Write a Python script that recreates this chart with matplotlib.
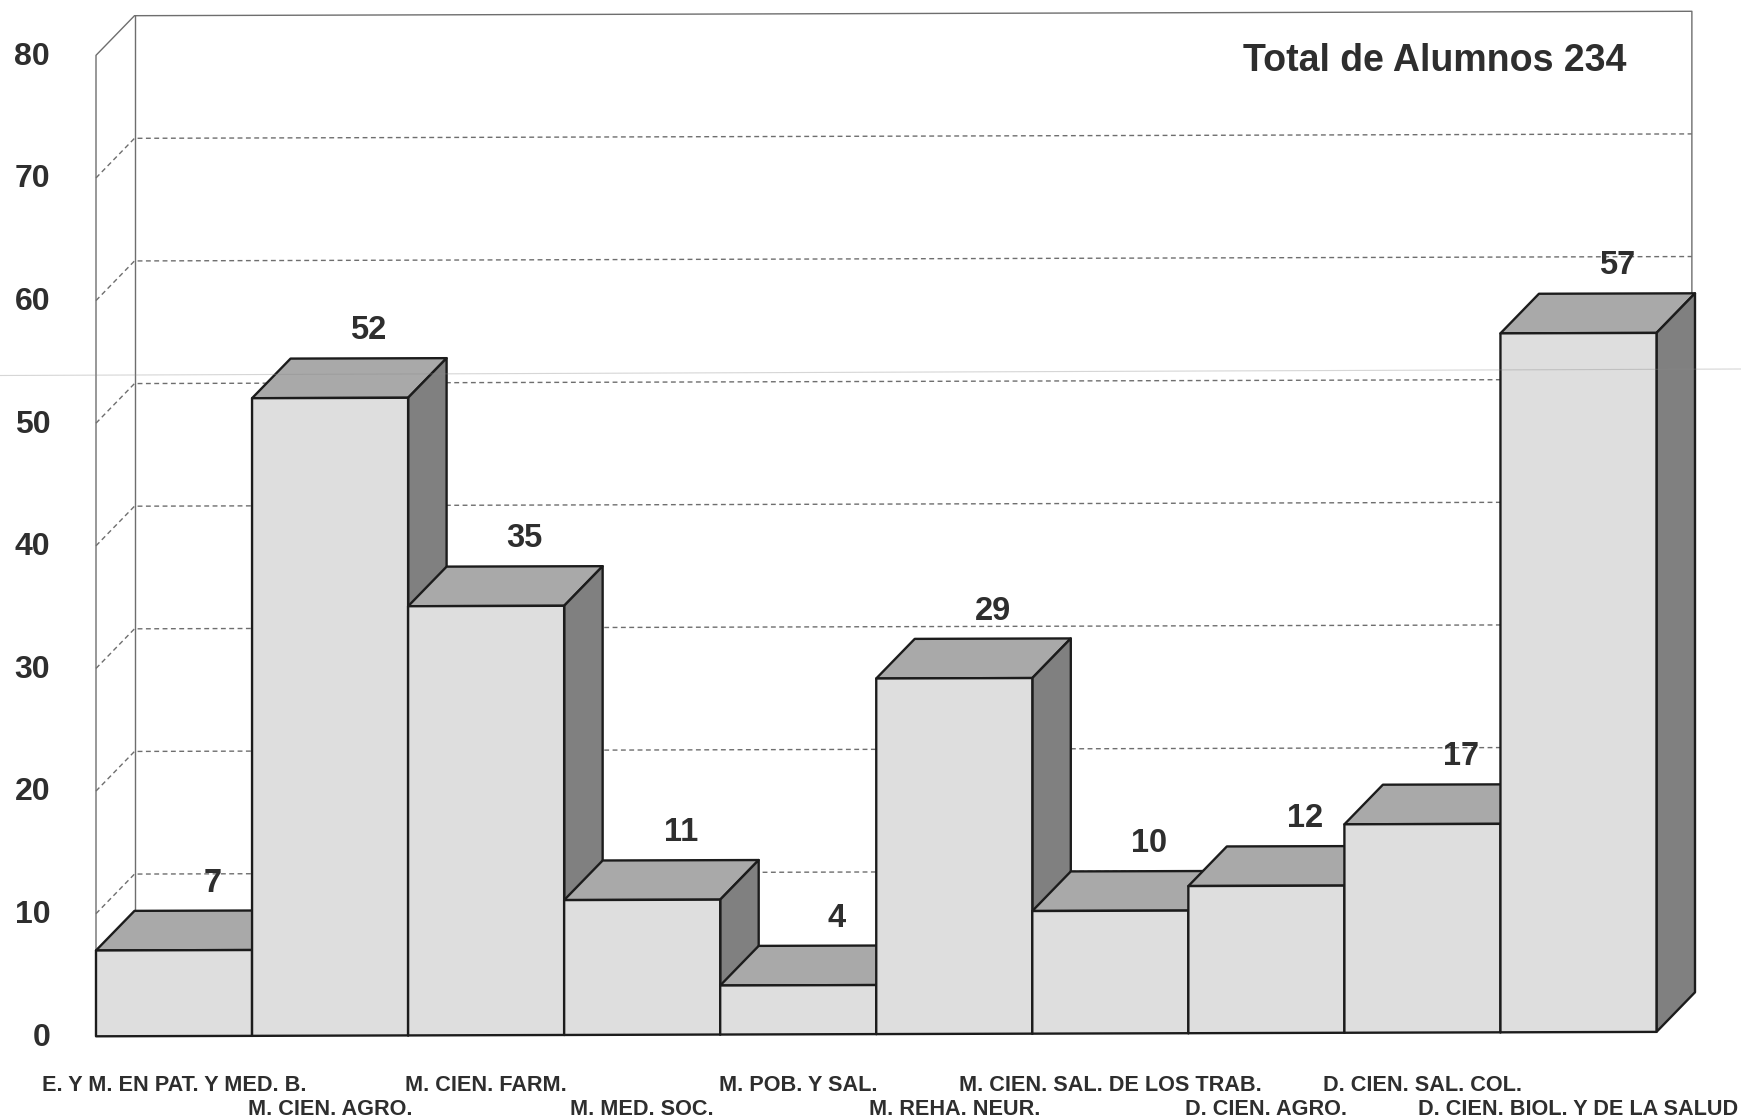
import matplotlib
matplotlib.use("Agg")
import matplotlib.pyplot as plt
from matplotlib.patches import Polygon
from matplotlib.transforms import Affine2D, ScaledTranslation

plt.rcParams['font.family'] = ['Liberation Sans', 'DejaVu Sans']

categories = ["E. Y M. EN PAT. Y MED. B.", "M. CIEN. AGRO.", "M. CIEN. FARM.", "M. MED. SOC.",
              "M. POB. Y SAL.", "M. REHA. NEUR.", "M. CIEN. SAL. DE LOS TRAB.",
              "D. CIEN. AGRO.", "D. CIEN. SAL. COL.", "D. CIEN. BIOL. Y DE LA SALUD"]
values = [7, 52, 35, 11, 4, 29, 10, 12, 17, 57]
y_ticks = [0, 10, 20, 30, 40, 50, 60, 70, 80]
title_text = "Total de Alumnos 234"

W, H = 1741, 1119
L, R, B, T = 96, 1656.5, 1036.3, 55.3   # pixel box of the front plane
fig = plt.figure(figsize=(W / 100, H / 100), dpi=100, facecolor='white')
ax = fig.add_axes([L / W, 1 - B / H, (R - L) / W, (B - T) / H])
n = len(values)
ax.set_xlim(0, n)
ax.set_ylim(0, 80)
for s in ax.spines.values():
    s.set_visible(False)
ax.patch.set_visible(False)

DX = 38.5 / ((R - L) / n)       # depth in category units
DY = 39.5 / ((B - T) / 80)      # depth in value units
SKEW = 0.036                    # slight tilt of the scan
WALL_INSET = 0.02               # back wall ends just short of the last bar's back edge
tr = Affine2D.from_values(1, SKEW, 0, 1, 0, 0) + ax.transData

WALL = '#6e6e6e'
TXT = '#2e2e2e'
FRONT, TOP, SIDE, EDGE = '#dedede', '#a9a9a9', '#808080', '#1c1c1c'

# walls
xr = n + DX - WALL_INSET
ax.plot([0, 0, DX, xr, xr], [0, 80, 80 + DY, 80 + DY, DY],
        color=WALL, lw=1.0, transform=tr, clip_on=False, zorder=1)
ax.plot([DX, DX], [DY, 80 + DY], color=WALL, lw=1.0, transform=tr, clip_on=False, zorder=1)
for v in y_ticks[1:-1]:
    ax.plot([0, DX, xr], [v, v + DY, v + DY], color=WALL, lw=1.0,
            ls=(0, (3.5, 2.5)), transform=tr, clip_on=False, zorder=1)

# bars
for i, v in enumerate(values):
    z = 3 + i * 0.01
    faces = [
        ([(i, v), (i + 1, v), (i + 1 + DX, v + DY), (i + DX, v + DY)], TOP),
        ([(i + 1, 0), (i + 1 + DX, DY), (i + 1 + DX, v + DY), (i + 1, v)], SIDE),
        ([(i, 0), (i + 1, 0), (i + 1, v), (i, v)], FRONT),
    ]
    for pts, c in faces:
        ax.add_patch(Polygon(pts, closed=True, facecolor=c, edgecolor=EDGE, lw=1.7,
                             joinstyle='round', transform=tr, clip_on=False, zorder=z))
    ax.text(i + 0.5 + DX, v + DY + 2.25, str(v), ha='center', va='center', fontsize=23.5,
            fontweight='bold', color=TXT, transform=tr, zorder=5)

# axes labels
ax.set_yticks(y_ticks)
ax.tick_params(axis='y', length=0, pad=33, labelsize=23, labelcolor=TXT)
shift = ScaledTranslation(0, 1.5 / 72, fig.dpi_scale_trans)
for t in ax.get_yticklabels():
    t.set_fontweight('bold')
    t.set_transform(t.get_transform() + shift)
pos = [i + 0.5 for i in range(n)]
ax.set_xticks(pos[0::2], categories[0::2])
ax.set_xticks(pos[1::2], categories[1::2], minor=True)
ax.tick_params(axis='x', which='major', length=0, pad=28, labelsize=15.6, labelcolor=TXT)
ax.tick_params(axis='x', which='minor', length=0, pad=45.5, labelsize=15.6, labelcolor=TXT)
for t in ax.get_xticklabels(which='both'):
    t.set_fontweight('bold')

ax.text(8.58, 79.5, title_text, ha='center', va='center', fontsize=27,
        fontweight='bold', color=TXT, zorder=5)

# faint horizontal fold across the page
fig.add_artist(plt.Line2D([0, 1], [1 - 375.5 / H, 1 - 369 / H], color='#8a8a8a', lw=0.8, alpha=0.35, zorder=10))

fig.savefig('out.png', dpi=100)
